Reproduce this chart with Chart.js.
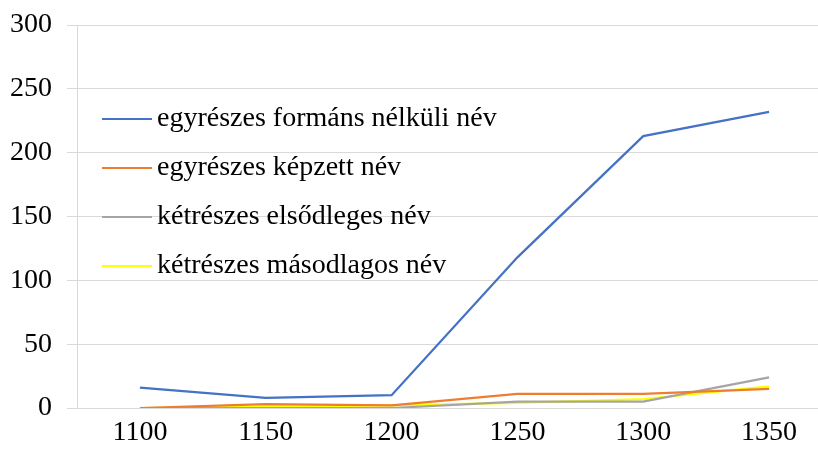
<!DOCTYPE html>
<html>
<head>
<meta charset="utf-8">
<script src="https://cdn.jsdelivr.net/npm/chart.js@4/dist/chart.umd.min.js"></script>
<style>
    html, body { margin: 0; padding: 0; background: #fff; overflow: hidden; }
    #wrap { position: absolute; left: 0; top: 0; width: 832px; height: 450px; }
</style>
</head>
<body>
<div id="wrap"><canvas id="chart"></canvas></div>
<script>
const years = ['1100', '1150', '1200', '1250', '1300', '1350'];
const seriesNames = [
    'egyrészes formáns nélküli név',
    'egyrészes képzett név',
    'kétrészes elsődleges név',
    'kétrészes másodlagos név'
];
const formansNelkuli = [16, 8, 10, 118, 213, 232];
const kepzett = [0, 3, 2, 11, 11, 15];
const elsodleges = [0, 0, 0, 5, 5, 24];
const masodlagos = [0, 1, 2, 4, 7, 17];
const yTicks = [0, 50, 100, 150, 200, 250, 300];

const colors = ['#4472C4', '#ED7D31', '#A5A5A5', '#FFFF00'];
const serif = "'Liberation Serif', 'Times New Roman', serif";

// legenda a rajzterületen belül, bal oldalt
const innerLegend = {
    id: 'innerLegend',
    afterDatasetsDraw(chart) {
        const ctx = chart.ctx;
        ctx.save();
        ctx.font = '28px ' + serif;
        ctx.textBaseline = 'middle';
        ctx.fillStyle = '#000';
        chart.data.datasets.forEach((ds, i) => {
            const y = 119 + i * 49;
            ctx.strokeStyle = ds.borderColor;
            ctx.lineWidth = 2;
            ctx.beginPath();
            ctx.moveTo(102, y);
            ctx.lineTo(152, y);
            ctx.stroke();
            ctx.fillText(ds.label, 157, y);
        });
        ctx.restore();
    }
};

const seriesData = [formansNelkuli, kepzett, elsodleges, masodlagos];

new Chart(document.getElementById('chart'), {
    type: 'line',
    data: {
        labels: years,
        datasets: seriesData.map((d, i) => ({
            label: seriesNames[i],
            data: d,
            borderColor: colors[i],
            backgroundColor: colors[i],
            borderWidth: 2.25,
            pointRadius: 0,
            tension: 0,
            fill: false
        }))
    },
    options: {
        responsive: true,
        maintainAspectRatio: false,
        animation: false,
        layout: { padding: { top: 25, left: 10, right: 0, bottom: 0 } },
        plugins: {
            legend: { display: false },
            tooltip: { enabled: false }
        },
        scales: {
            x: {
                offset: true,
                afterFit: (axis) => { axis.height = 42; },
                grid: { display: false, drawTicks: false },
                border: { display: false },
                ticks: {
                    padding: 8,
                    color: '#000',
                    font: { family: serif, size: 28 },
                    maxRotation: 0
                }
            },
            y: {
                min: 0,
                max: 300,
                afterBuildTicks: (axis) => { axis.ticks = yTicks.map(v => ({ value: v })); },
                afterFit: (axis) => {
                    axis.width = 67;
                    axis.paddingTop = 0;
                    axis.paddingBottom = 0;
                },
                grid: { color: '#d9d9d9', lineWidth: 1, tickLength: 10 },
                border: { display: true, color: '#d9d9d9' },
                ticks: {
                    padding: 15,
                    color: '#000',
                    font: { family: serif, size: 28 }
                }
            }
        }
    },
    plugins: [innerLegend]
});
</script>
</body>
</html>
